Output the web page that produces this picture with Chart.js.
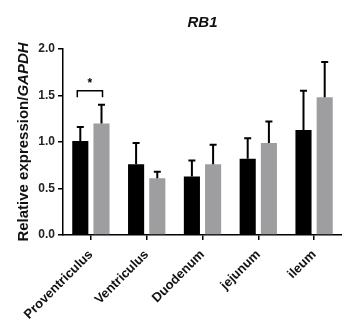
<!DOCTYPE html>
<html>
<head>
<meta charset="utf-8">
<script src="https://cdn.jsdelivr.net/npm/chart.js@4"></script>
<style>
  html, body { margin: 0; padding: 0; background: #fff; }
  #wrap { width: 342px; height: 320px; }
</style>
</head>
<body>
<div id="wrap"><canvas id="chart" width="342" height="320"></canvas></div>
<script>
// data
const tissues = ['Proventriculus', 'Ventriculus', 'Duodenum', 'jejunum', 'ileum'];
const blackMeans = [1.01, 0.76, 0.63, 0.82, 1.13];
const blackErr   = [0.15, 0.23, 0.17, 0.22, 0.42];
const greyMeans  = [1.20, 0.61, 0.76, 0.99, 1.48];
const greyErr    = [0.20, 0.07, 0.21, 0.23, 0.38];
const yTicks = [0, 0.5, 1.0, 1.5, 2.0];
// significance bracket: category index, bracket level, leg bottom
const sigIndex = 0;
const sigLevel = [1.55, 1.48];
const sigText = '*';

const errs = [blackErr, greyErr];

const errorBars = {
    id: 'errorBars',
    afterDatasetsDraw(chart) {
        const ctx = chart.ctx;
        const y = chart.scales.y;
        ctx.save();
        ctx.strokeStyle = '#000';
        ctx.lineWidth = 2;
        chart.data.datasets.forEach((ds, di) => {
            const meta = chart.getDatasetMeta(di);
            meta.data.forEach((bar, i) => {
                const top = y.getPixelForValue(ds.data[i] + errs[di][i]);
                ctx.beginPath();
                ctx.moveTo(bar.x, bar.y);
                ctx.lineTo(bar.x, top);
                ctx.moveTo(bar.x - 3.5, top);
                ctx.lineTo(bar.x + 3.5, top);
                ctx.stroke();
            });
        });
        // bracket with star
        const b0 = chart.getDatasetMeta(0).data[sigIndex];
        const b1 = chart.getDatasetMeta(1).data[sigIndex];
        const yTop = y.getPixelForValue(sigLevel[0]);
        const yLeg = y.getPixelForValue(sigLevel[1]);
        const x0 = b0.x - 3, x1 = b1.x + 1;
        ctx.lineWidth = 1.5;
        ctx.beginPath();
        ctx.moveTo(x0, yLeg);
        ctx.lineTo(x0, yTop);
        ctx.lineTo(x1, yTop);
        ctx.lineTo(x1, yLeg);
        ctx.stroke();
        ctx.fillStyle = '#000';
        ctx.font = 'bold 12px Arial, "Liberation Sans"';
        ctx.textAlign = 'center';
        ctx.textBaseline = 'middle';
        ctx.fillText(sigText, (x0 + x1) / 2, yTop - 7);
        ctx.restore();
    }
};

const yTitle = {
    id: 'yTitle',
    afterDraw(chart) {
        const ctx = chart.ctx;
        const a = chart.chartArea;
        const p1 = 'Relative expression/';
        const p2 = 'GAPDH';
        const f1 = 'bold 15px Arial, "Liberation Sans"';
        const f2 = 'italic bold 15px Arial, "Liberation Sans"';
        ctx.save();
        ctx.font = f1;
        const w1 = ctx.measureText(p1).width;
        ctx.font = f2;
        const w2 = ctx.measureText(p2).width;
        ctx.translate(24, (a.top + a.bottom) / 2);
        ctx.rotate(-Math.PI / 2);
        ctx.fillStyle = '#111';
        ctx.textBaseline = 'middle';
        ctx.textAlign = 'left';
        const start = -(w1 + w2) / 2;
        ctx.font = f1;
        ctx.fillText(p1, start, 0);
        ctx.font = f2;
        ctx.fillText(p2, start + w1, 0);
        ctx.restore();
    }
};

new Chart(document.getElementById('chart'), {
    type: 'bar',
    data: {
        labels: tissues,
        datasets: [{
            label: 'Group 1',
            data: blackMeans,
            backgroundColor: '#000000',
            categoryPercentage: 0.76,
            barPercentage: 0.76
        }, {
            label: 'Group 2',
            data: greyMeans,
            backgroundColor: '#9e9ea1',
            categoryPercentage: 0.76,
            barPercentage: 0.76
        }]
    },
    options: {
        responsive: false,
        animation: false,
        layout: { padding: { left: 0, right: 0, top: 0, bottom: 0 } },
        plugins: {
            legend: { display: false },
            tooltip: { enabled: false },
            title: {
                display: true,
                fullSize: false,
                text: 'RB1',
                color: '#111',
                font: { family: 'Arial, "Liberation Sans"', size: 15, weight: 'bold', style: 'italic', lineHeight: 1.2 },
                padding: { top: 14, bottom: 17 }
            }
        },
        scales: {
            x: {
                afterFit(s) { s.height = 85; },
                border: { color: '#000', width: 1.5 },
                grid: { offset: false, drawOnChartArea: false, color: '#000', tickLength: 5, lineWidth: 1.5 },
                ticks: {
                    color: '#111',
                    minRotation: 45,
                    maxRotation: 45,
                    padding: 7,
                    font: { family: 'Arial, "Liberation Sans"', size: 13, weight: 'bold' }
                }
            },
            y: {
                min: 0,
                max: 2,
                afterFit(s) { s.width = 63; },
                afterBuildTicks(s) { s.ticks = yTicks.map(v => ({ value: v })); },
                border: { color: '#000', width: 1.5 },
                grid: { drawOnChartArea: false, color: '#000', tickLength: 5, lineWidth: 1.5 },
                ticks: {
                    color: '#222',
                    padding: 3,
                    callback: v => v.toFixed(1),
                    font: { family: 'Arial, "Liberation Sans"', size: 12, weight: 'bold' }
                }
            }
        }
    },
    plugins: [errorBars, yTitle]
});
</script>
</body>
</html>
